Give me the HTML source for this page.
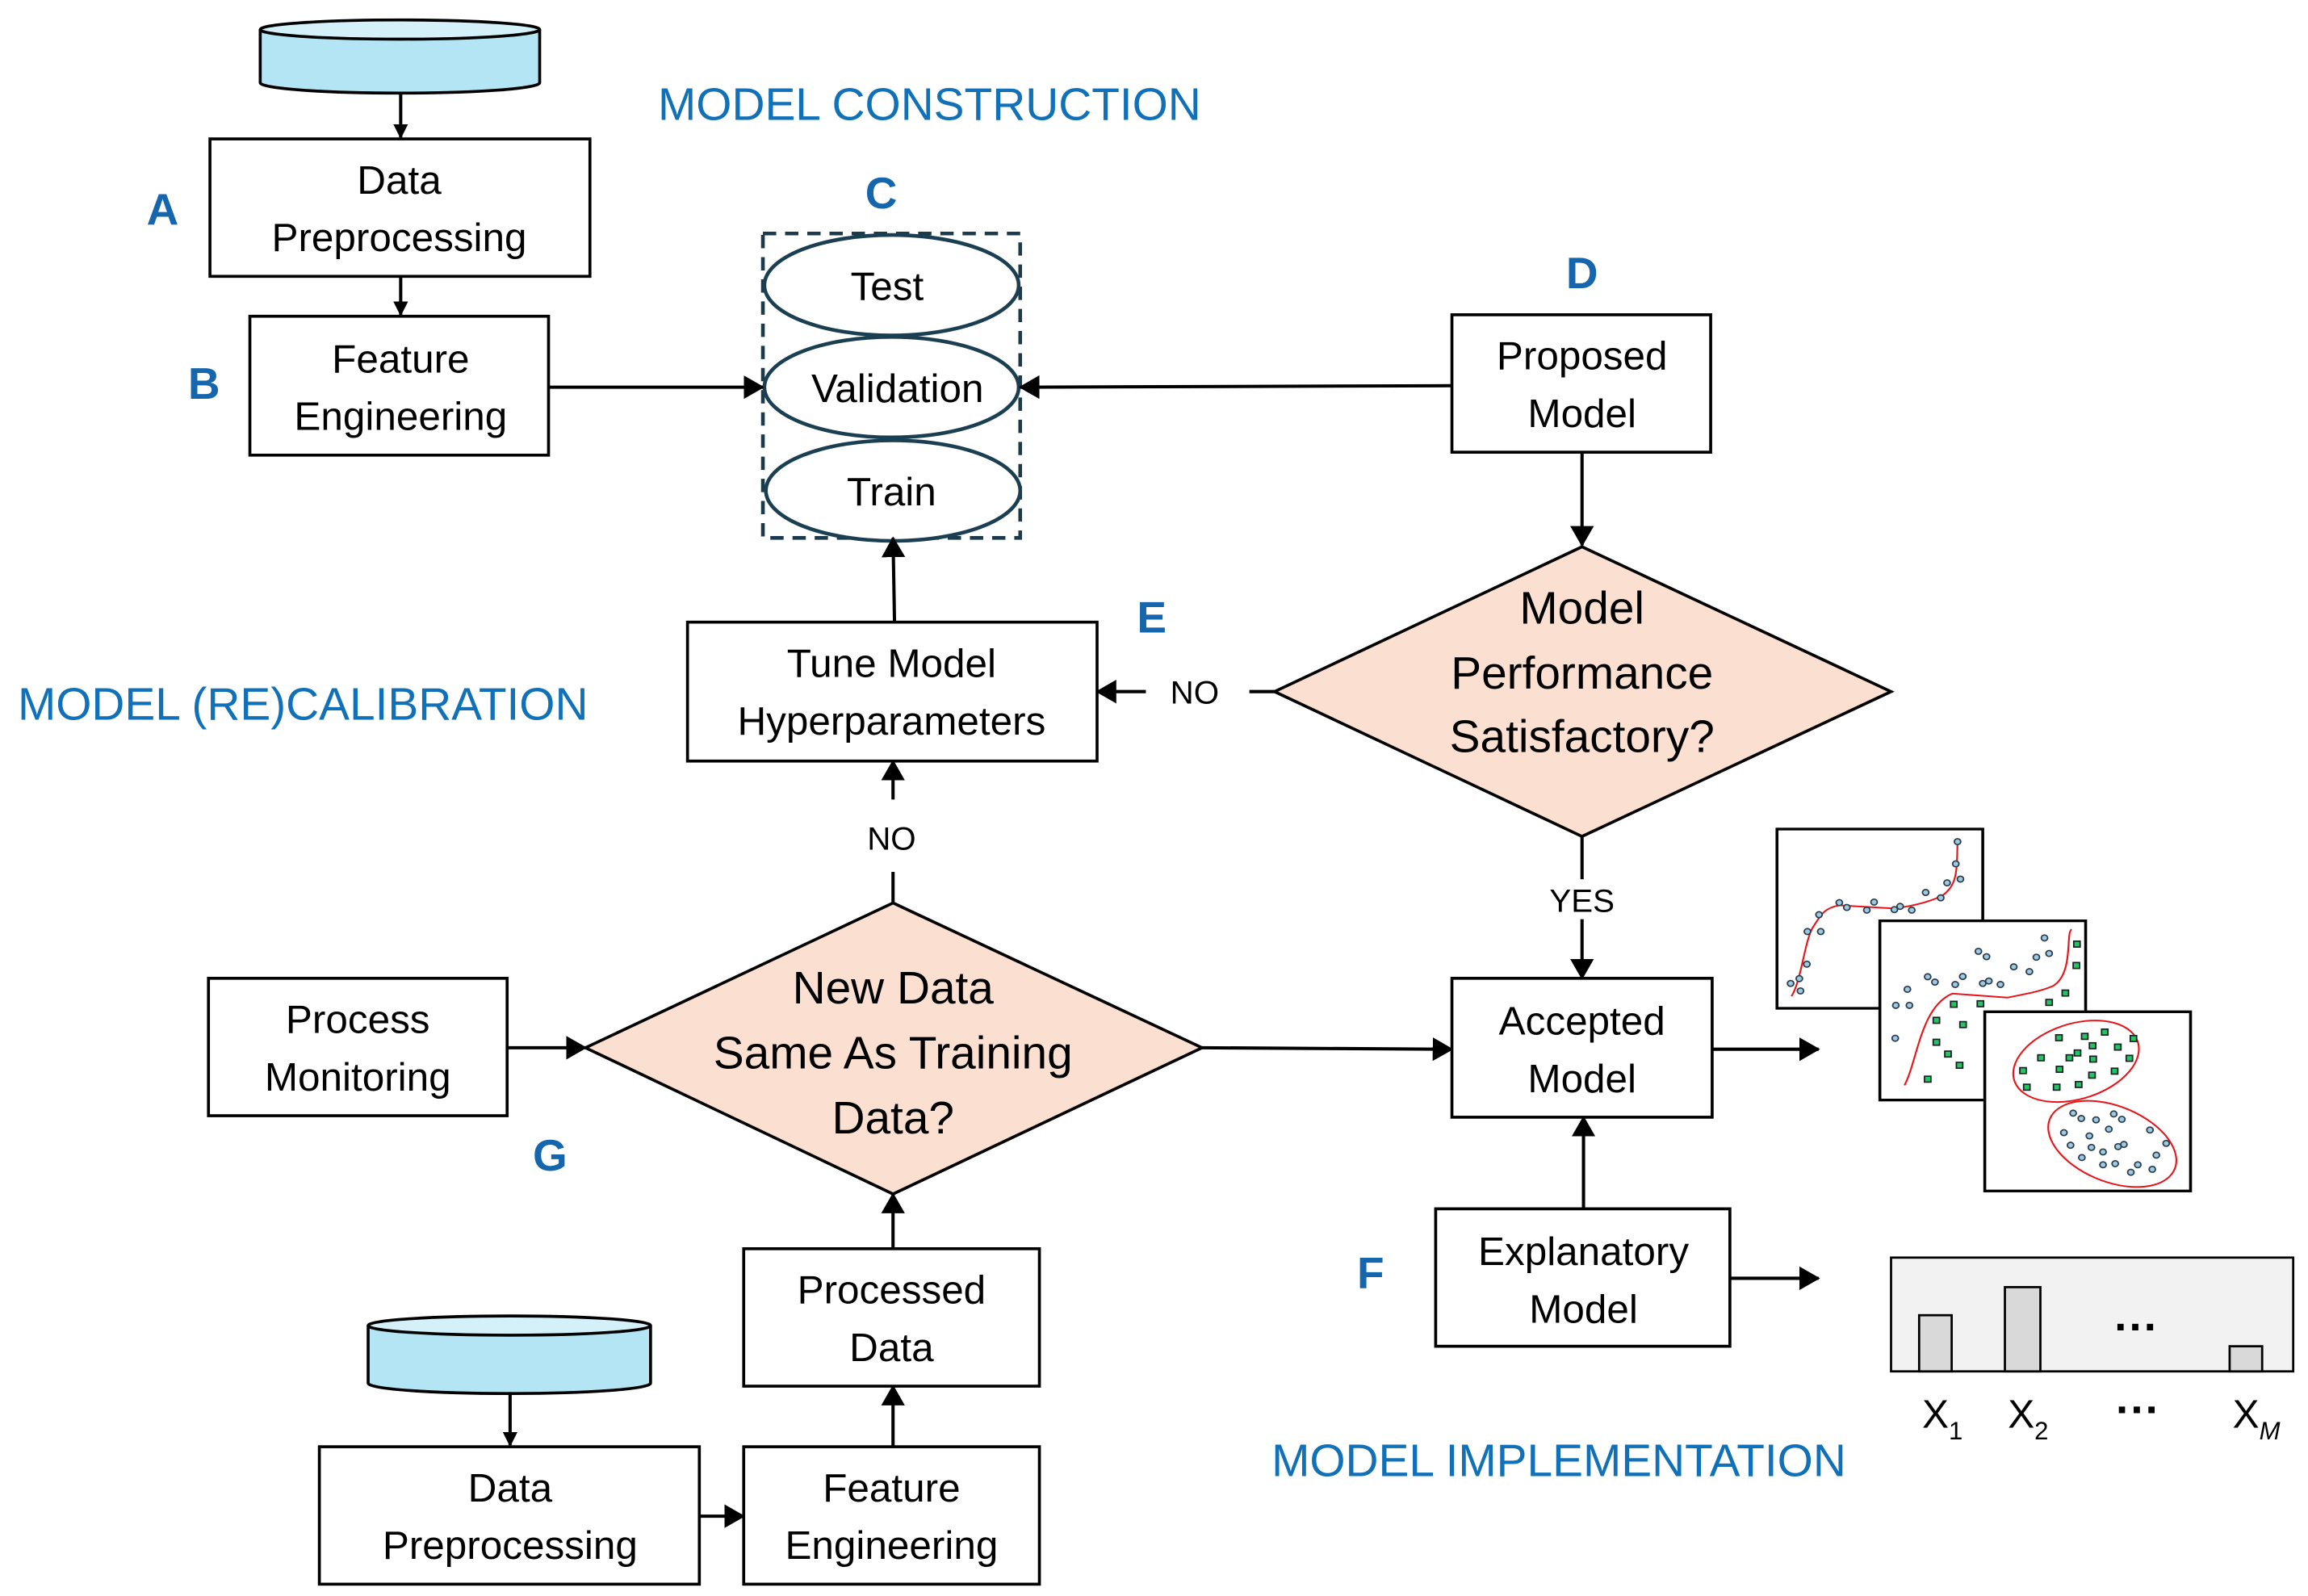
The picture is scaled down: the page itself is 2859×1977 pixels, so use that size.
<!DOCTYPE html>
<html><head><meta charset="utf-8"><style>
html,body{margin:0;padding:0;background:#fff;}
svg{display:block;}
text{font-family:"Liberation Sans",sans-serif;}
</style></head><body>
<svg width="2859" height="1977" viewBox="0 0 1561 1080" preserveAspectRatio="none" xmlns="http://www.w3.org/2000/svg">
<defs>
<marker id="ah" markerWidth="10" markerHeight="10" refX="9" refY="5" orient="auto" markerUnits="userSpaceOnUse">
<path d="M0,0 L10,5 L0,10 z" fill="#000"/></marker>
<marker id="ah2" markerWidth="14" markerHeight="16" refX="13" refY="8" orient="auto" markerUnits="userSpaceOnUse">
<path d="M0,0 L14,8 L0,16 z" fill="#000"/></marker>
</defs>
<rect width="1561" height="1080" fill="#fff"/>
<g stroke="#000" stroke-width="2" fill="#fff">
<path d="M176,20 L176,56 A94.5,7 0 0 0 365,56 L365,20" fill="#b3e5f4"/>
<ellipse cx="270.5" cy="20" rx="94.5" ry="6.5" fill="#d4f1fa"/>
<path d="M249,897 L249,936 A95.5,7 0 0 0 440,936 L440,897" fill="#b3e5f4"/>
<ellipse cx="344.5" cy="897" rx="95.5" ry="6.5" fill="#d4f1fa"/>
<rect x="142" y="94" width="257" height="93"/>
<rect x="169" y="214" width="202" height="94"/>
<rect x="982" y="213" width="175" height="93"/>
<rect x="465" y="421" width="277" height="94"/>
<rect x="141" y="662" width="202" height="93"/>
<rect x="982" y="662" width="176" height="94"/>
<rect x="971" y="818" width="199" height="93"/>
<rect x="503" y="845" width="200" height="93"/>
<rect x="216" y="979" width="257" height="93"/>
<rect x="503" y="979" width="200" height="93"/>
<polygon points="1070,370 1279,468 1070,566 862,468" fill="#fbdfd0"/>
<polygon points="604,611 813,709 604,808 396,709" fill="#fbdfd0"/>
</g>
<rect x="516" y="158" width="174" height="206" fill="none" stroke="#1b3a4b" stroke-width="2.5" stroke-dasharray="9,6"/>
<g fill="#fff" stroke="#1b3f52" stroke-width="2.5">
<ellipse cx="603" cy="193" rx="86" ry="34"/>
<ellipse cx="603" cy="262" rx="86" ry="34"/>
<ellipse cx="604" cy="332" rx="86" ry="34"/>
</g>
<g stroke="#000" stroke-width="2.2" fill="none">
<line x1="271" y1="62" x2="271" y2="93" marker-end="url(#ah)"/>
<line x1="271" y1="187" x2="271" y2="213" marker-end="url(#ah)"/>
<line x1="371" y1="262" x2="516" y2="262" marker-end="url(#ah2)"/>
<line x1="982" y1="261" x2="690" y2="262" marker-end="url(#ah2)"/>
<line x1="1070" y1="306" x2="1070" y2="369" marker-end="url(#ah2)"/>
<line x1="862" y1="468" x2="845" y2="468"/>
<line x1="775" y1="468" x2="742" y2="468" marker-end="url(#ah2)"/>
<line x1="605" y1="421" x2="604" y2="364" marker-end="url(#ah2)"/>
<line x1="604" y1="541" x2="604" y2="515" marker-end="url(#ah2)"/>
<line x1="604" y1="590" x2="604" y2="611"/>
<line x1="343" y1="709" x2="396" y2="709" marker-end="url(#ah2)"/>
<line x1="813" y1="709" x2="982" y2="710" marker-end="url(#ah2)"/>
<line x1="1070" y1="566" x2="1070" y2="595"/>
<line x1="1070" y1="622" x2="1070" y2="662" marker-end="url(#ah2)"/>
<line x1="1158" y1="710" x2="1230" y2="710" marker-end="url(#ah2)"/>
<line x1="1071" y1="818" x2="1071" y2="756" marker-end="url(#ah2)"/>
<line x1="1170" y1="865" x2="1230" y2="865" marker-end="url(#ah2)"/>
<line x1="604" y1="845" x2="604" y2="808" marker-end="url(#ah2)"/>
<line x1="345" y1="942" x2="345" y2="978" marker-end="url(#ah)"/>
<line x1="473" y1="1026" x2="503" y2="1026" marker-end="url(#ah2)"/>
<line x1="604" y1="979" x2="604" y2="938" marker-end="url(#ah2)"/>
</g>
<g font-size="27" text-anchor="middle" fill="#000">
<text x="270" y="131">Data</text><text x="270" y="170">Preprocessing</text>
<text x="271" y="252">Feature</text><text x="271" y="291">Engineering</text>
<text x="600" y="203">Test</text>
<text x="607" y="272">Validation</text>
<text x="603" y="342">Train</text>
<text x="1070" y="250">Proposed</text><text x="1070" y="289">Model</text>
<text x="603" y="458">Tune Model</text><text x="603" y="497">Hyperparameters</text>
<text x="242" y="699">Process</text><text x="242" y="738">Monitoring</text>
<text x="1070" y="700">Accepted</text><text x="1070" y="739">Model</text>
<text x="1071" y="856">Explanatory</text><text x="1071" y="895">Model</text>
<text x="603" y="882">Processed</text><text x="603" y="921">Data</text>
<text x="345" y="1016">Data</text><text x="345" y="1055">Preprocessing</text>
<text x="603" y="1016">Feature</text><text x="603" y="1055">Engineering</text>
</g>
<g font-size="31" text-anchor="middle" fill="#000">
<text x="1070" y="422">Model</text><text x="1070" y="466">Performance</text><text x="1070" y="509">Satisfactory?</text>
<text x="604" y="679">New Data</text><text x="604" y="723">Same As Training</text><text x="604" y="767">Data?</text>
</g>
<g font-size="22" text-anchor="middle" fill="#000">
<text x="808" y="476">NO</text>
<text x="603" y="575">NO</text>
<text x="1070" y="617">YES</text>
</g>
<g font-size="31" fill="#1070b8">
<text x="445" y="81">MODEL CONSTRUCTION</text>
<text x="12" y="487">MODEL (RE)CALIBRATION</text>
<text x="860" y="999">MODEL IMPLEMENTATION</text>
</g>
<g font-size="30" font-weight="bold" fill="#1566ad" text-anchor="middle">
<text x="110" y="152">A</text>
<text x="138" y="270">B</text>
<text x="596" y="141">C</text>
<text x="1070" y="195">D</text>
<text x="779" y="428">E</text>
<text x="927" y="872">F</text>
<text x="372" y="792">G</text>
</g>
<rect x="1279" y="851" width="272" height="77" fill="#f2f2f2" stroke="#000" stroke-width="1.5"/>
<g fill="#d9d9d9" stroke="#000" stroke-width="1.5">
<rect x="1298" y="890" width="22" height="38"/>
<rect x="1356" y="871" width="24" height="57"/>
<rect x="1508" y="911" width="22" height="17"/>
</g>
<text x="1445" y="908" font-size="30" font-weight="bold" text-anchor="middle">···</text>
<text x="1446" y="964" font-size="30" font-weight="bold" text-anchor="middle">···</text>
<g font-size="27" fill="#000">
<text x="1300" y="966">X<tspan font-size="17" dy="8">1</tspan></text>
<text x="1358" y="966">X<tspan font-size="17" dy="8">2</tspan></text>
<text x="1510" y="966">X<tspan font-size="17" font-style="italic" dy="8">M</tspan></text>
</g>
<g transform="translate(1195,554.7) scale(0.196,0.181)">
<rect x="35" y="35" width="710" height="670" fill="#fff" stroke="#000" stroke-width="10"/>
<path d="M85,660 C120,600 130,450 160,400 S200,330 250,320 L440,332 C520,320 580,300 610,280 C660,240 655,180 658,82" fill="none" stroke="#e8141a" stroke-width="6"/>
<g fill="#9ecae1" stroke="#2a3b4c" stroke-width="5">
<circle cx="658" cy="82" r="11"/><circle cx="652" cy="165" r="11"/><circle cx="668" cy="222" r="11"/><circle cx="622" cy="236" r="11"/><circle cx="548" cy="272" r="11"/><circle cx="600" cy="292" r="11"/><circle cx="250" cy="310" r="11"/><circle cx="276" cy="328" r="11"/><circle cx="345" cy="338" r="11"/><circle cx="370" cy="308" r="11"/><circle cx="440" cy="336" r="11"/><circle cx="460" cy="324" r="11"/><circle cx="500" cy="338" r="11"/><circle cx="180" cy="355" r="11"/><circle cx="140" cy="418" r="11"/><circle cx="186" cy="418" r="11"/><circle cx="138" cy="540" r="11"/><circle cx="112" cy="594" r="11"/><circle cx="82" cy="612" r="11"/><circle cx="116" cy="640" r="11"/>
</g>
<rect x="390" y="378" width="710" height="670" fill="#fff" stroke="#000" stroke-width="10"/>
<path d="M475,993 C520,900 530,700 640,650 L830,665 C900,650 950,640 990,620 C1060,570 1030,420 1052,410" fill="none" stroke="#e8141a" stroke-width="6"/>
<g fill="#9ecae1" stroke="#2a3b4c" stroke-width="5">
<circle cx="958" cy="442" r="11"/><circle cx="730" cy="492" r="11"/><circle cx="758" cy="512" r="11"/><circle cx="974" cy="500" r="11"/><circle cx="930" cy="514" r="11"/><circle cx="852" cy="550" r="11"/><circle cx="906" cy="568" r="11"/><circle cx="555" cy="587" r="11"/><circle cx="580" cy="607" r="11"/><circle cx="676" cy="586" r="11"/><circle cx="650" cy="616" r="11"/><circle cx="745" cy="612" r="11"/><circle cx="766" cy="603" r="11"/><circle cx="806" cy="616" r="11"/><circle cx="485" cy="634" r="11"/><circle cx="445" cy="694" r="11"/><circle cx="492" cy="694" r="11"/><circle cx="443" cy="817" r="11"/>
</g>
<g fill="#22c55e" stroke="#17202a" stroke-width="5">
<rect x="1059" y="454" width="22" height="22"/><rect x="1057" y="534" width="22" height="22"/><rect x="1019" y="637" width="22" height="22"/><rect x="963" y="672" width="22" height="22"/><rect x="634" y="679" width="22" height="22"/><rect x="726" y="677" width="22" height="22"/><rect x="574" y="739" width="22" height="22"/><rect x="666" y="755" width="22" height="22"/><rect x="574" y="821" width="22" height="22"/><rect x="614" y="865" width="22" height="22"/><rect x="654" y="907" width="22" height="22"/><rect x="544" y="959" width="22" height="22"/>
</g>
<rect x="752" y="718" width="710" height="670" fill="#fff" stroke="#000" stroke-width="10"/>
<ellipse cx="1067" cy="903" rx="225" ry="140" transform="rotate(-20 1067 903)" fill="none" stroke="#e8141a" stroke-width="6"/>
<ellipse cx="1192" cy="1212" rx="235" ry="140" transform="rotate(25 1192 1212)" fill="none" stroke="#e8141a" stroke-width="6"/>
<g fill="#22c55e" stroke="#17202a" stroke-width="5">
<rect x="997" y="804" width="22" height="22"/><rect x="1086" y="799" width="22" height="22"/><rect x="1155" y="783" width="22" height="22"/><rect x="1254" y="807" width="22" height="22"/><rect x="1113" y="834" width="22" height="22"/><rect x="1200" y="839" width="22" height="22"/><rect x="935" y="879" width="22" height="22"/><rect x="1033" y="879" width="22" height="22"/><rect x="1061" y="861" width="22" height="22"/><rect x="1115" y="884" width="22" height="22"/><rect x="1240" y="881" width="22" height="22"/><rect x="873" y="927" width="22" height="22"/><rect x="999" y="922" width="22" height="22"/><rect x="1111" y="944" width="22" height="22"/><rect x="1189" y="929" width="22" height="22"/><rect x="886" y="989" width="22" height="22"/><rect x="989" y="989" width="22" height="22"/><rect x="1065" y="979" width="22" height="22"/>
</g>
<g fill="#9ecae1" stroke="#2a3b4c" stroke-width="5">
<circle cx="1057" cy="1097" r="11"/><circle cx="1085" cy="1117" r="11"/><circle cx="1136" cy="1122" r="11"/><circle cx="1197" cy="1100" r="11"/><circle cx="1225" cy="1120" r="11"/><circle cx="1180" cy="1157" r="11"/><circle cx="1322" cy="1160" r="11"/><circle cx="1025" cy="1170" r="11"/><circle cx="1113" cy="1182" r="11"/><circle cx="1048" cy="1217" r="11"/><circle cx="1120" cy="1225" r="11"/><circle cx="1160" cy="1242" r="11"/><circle cx="1212" cy="1222" r="11"/><circle cx="1232" cy="1214" r="11"/><circle cx="1378" cy="1210" r="11"/><circle cx="1344" cy="1254" r="11"/><circle cx="1087" cy="1263" r="11"/><circle cx="1160" cy="1290" r="11"/><circle cx="1202" cy="1286" r="11"/><circle cx="1280" cy="1290" r="11"/><circle cx="1256" cy="1318" r="11"/><circle cx="1330" cy="1307" r="11"/>
</g>
</g>
</svg>
</body></html>
